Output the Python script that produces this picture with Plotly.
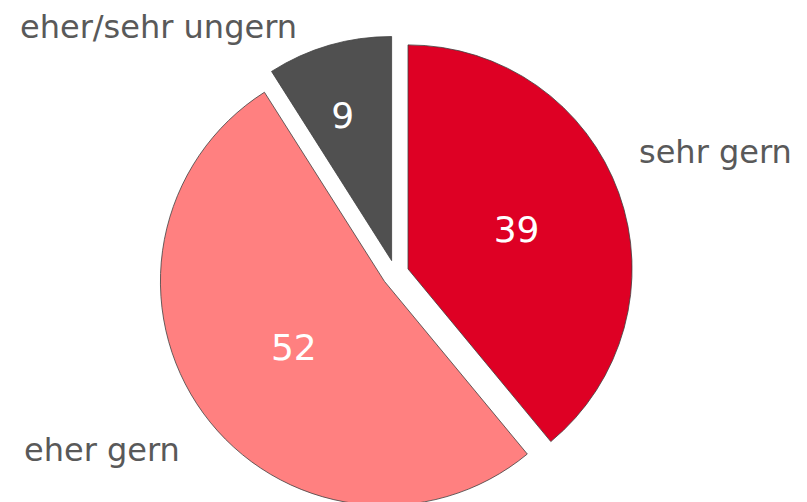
import plotly.graph_objects as go

categories = ["sehr gern", "eher gern", "eher/sehr ungern"]
values = [39, 52, 9]
colors = ["#DE0024", "#FF8080", "#505050"]

# label anchor positions (paper coords)
label_x = [0.877, 0.1165, 0.187]
label_y = [0.755, 0.128, 1.019]

fig = go.Figure()
fig.add_trace(go.Pie(
    labels=categories,
    values=values,
    sort=False,
    direction="clockwise",
    rotation=0,
    pull=[0.06, 0.06, 0.06],
    marker=dict(colors=colors, line=dict(color="#404040", width=0.8)),
    textinfo="value",
    texttemplate=["%{value}", "%{value}", "\u00a0<br>%{value}"],
    textposition="inside",
    insidetextorientation="horizontal",
    textfont=dict(family="DejaVu Sans", size=36, color="white"),
    domain=dict(x=[0, 0.96], y=[0, 1]),
    showlegend=False,
    hoverinfo="label+value",
))

for name, x, y in zip(categories, label_x, label_y):
    fig.add_annotation(
        text=name, x=x, y=y, xref="paper", yref="paper",
        xanchor="center", yanchor="middle", showarrow=False,
        font=dict(family="DejaVu Sans", size=32, color="#595959"),
    )

fig.update_layout(
    width=807, height=510,
    margin=dict(l=0, r=0, t=28, b=7),
    paper_bgcolor="white",
    plot_bgcolor="white",
)

fig.write_html("out.html")
